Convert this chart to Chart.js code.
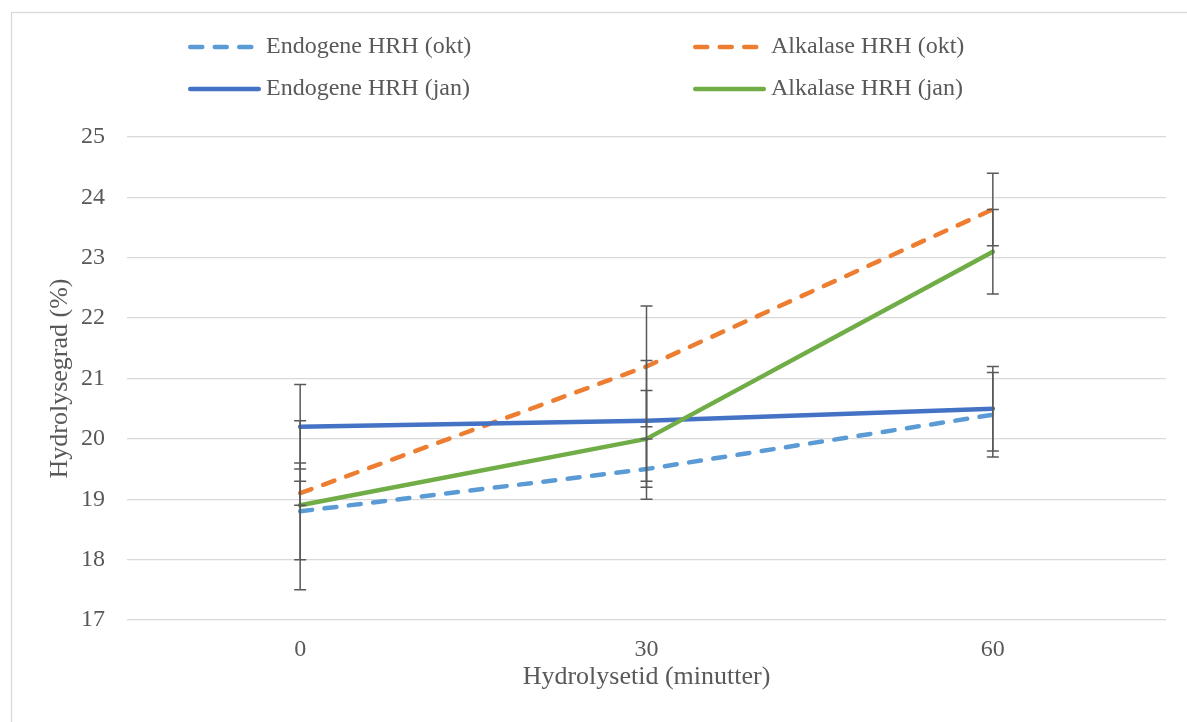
<!DOCTYPE html>
<html>
<head>
<meta charset="utf-8">
<script src="https://cdn.jsdelivr.net/npm/chart.js@4/dist/chart.umd.min.js"></script>
<style>
  html, body { margin: 0; padding: 0; background: #fff; }
  #wrap { width: 1187px; height: 722px; position: relative; }
</style>
</head>
<body>
<div id="wrap"><canvas id="chart" width="1187" height="722"></canvas></div>
<script>
// data
const categories = ["0", "30", "60"];
const seriesNames = ["Endogene HRH (okt)", "Alkalase HRH (okt)", "Endogene HRH (jan)", "Alkalase HRH (jan)"];
const endogeneOkt = [18.8, 19.5, 20.4];
const alkalaseOkt = [19.1, 21.2, 23.8];
const endogeneJan = [20.2, 20.3, 20.5];
const alkalaseJan = [18.9, 20.0, 23.1];
// +/- error per point
const endogeneOktErr = [0.8, 0.5, 0.7];
const alkalaseOktErr = [0.2, 1.0, 0.6];
const endogeneJanErr = [0.7, 1.0, 0.7];
const alkalaseJanErr = [1.4, 0.8, 0.7];
const yMin = 17;
const yMax = 25;
const yStep = 1;

const textColor = "#595959";
const serif = "'Liberation Serif', 'Times New Roman', serif";
const dash = [12, 12.5];

function makeSet(i, data, err, color, dashed) {
  return {
    label: seriesNames[i],
    data: data,
    errors: err,
    borderColor: color,
    backgroundColor: color,
    borderWidth: 4.5,
    borderDash: dashed ? dash : [],
    borderCapStyle: "round",
    borderJoinStyle: "round",
    pointRadius: 0,
    pointHoverRadius: 0,
    tension: 0,
    fill: false,
    order: 3 - i,
  };
}

// frame around the whole chart (goes off the picture at right and bottom)
const framePlugin = {
  id: "frame",
  beforeDraw(chart) {
    const ctx = chart.ctx;
    ctx.save();
    ctx.strokeStyle = "#d9d9d9";
    ctx.lineWidth = 1.3;
    ctx.strokeRect(11.5, 12.5, 1400, 900);
    ctx.restore();
  },
};

// vertical error bars with caps
const errorBarPlugin = {
  id: "errorBars",
  afterDatasetsDraw(chart) {
    const ctx = chart.ctx;
    const x = chart.scales.x;
    const y = chart.scales.y;
    ctx.save();
    ctx.strokeStyle = "#595959";
    ctx.lineWidth = 1.5;
    chart.data.datasets.forEach((ds) => {
      ds.data.forEach((v, i) => {
        const e = ds.errors[i];
        const px = x.getPixelForValue(i);
        const top = y.getPixelForValue(v + e);
        const bot = y.getPixelForValue(v - e);
        ctx.beginPath();
        ctx.moveTo(px, top);
        ctx.lineTo(px, bot);
        ctx.moveTo(px - 6, top);
        ctx.lineTo(px + 6, top);
        ctx.moveTo(px - 6, bot);
        ctx.lineTo(px + 6, bot);
        ctx.stroke();
      });
    });
    ctx.restore();
  },
};

// legend: two columns, two rows like the original
const legendPlugin = {
  id: "twoColLegend",
  afterDraw(chart) {
    const ctx = chart.ctx;
    const cols = [188, 693];
    const rows = [47, 89];
    const lineLen = 73;
    ctx.save();
    chart.data.datasets.forEach((ds, i) => {
      const lx = cols[i % 2];
      const ly = rows[Math.floor(i / 2)];
      ctx.strokeStyle = ds.borderColor;
      ctx.lineWidth = ds.borderWidth;
      ctx.lineCap = "round";
      ctx.setLineDash(ds.borderDash);
      ctx.beginPath();
      ctx.moveTo(lx + 2.25, ly);
      ctx.lineTo(lx + lineLen - 2.25, ly);
      ctx.stroke();
      ctx.setLineDash([]);
      ctx.fillStyle = textColor;
      ctx.font = "24px " + serif;
      ctx.textBaseline = "middle";
      ctx.textAlign = "left";
      ctx.fillText(ds.label, lx + lineLen + 5, ly);
    });
    ctx.restore();
  },
};

const ctx = document.getElementById("chart").getContext("2d");
new Chart(ctx, {
  type: "line",
  data: {
    labels: categories,
    datasets: [
      makeSet(0, endogeneOkt, endogeneOktErr, "#5B9BD5", true),
      makeSet(1, alkalaseOkt, alkalaseOktErr, "#ED7D31", true),
      makeSet(2, endogeneJan, endogeneJanErr, "#4472C4", false),
      makeSet(3, alkalaseJan, alkalaseJanErr, "#70AD47", false),
    ],
  },
  plugins: [framePlugin, errorBarPlugin, legendPlugin],
  options: {
    responsive: false,
    animation: false,
    layout: {
      padding: { left: 0, right: 21, top: 137, bottom: 0 },
    },
    plugins: {
      legend: { display: false },
      tooltip: { enabled: false },
    },
    scales: {
      x: {
        offset: true,
        grid: { display: false, drawTicks: false },
        border: { display: false },
        ticks: {
          color: textColor,
          padding: 15,
          font: { size: 24, family: serif },
        },
        title: {
          display: true,
          text: "Hydrolysetid (minutter)",
          color: textColor,
          font: { size: 26, family: serif },
          padding: { top: 0, bottom: 29 },
        },
        afterFit(scale) {
          scale.height = 102;
        },
      },
      y: {
        min: yMin,
        max: yMax,
        grid: {
          color: "#d9d9d9",
          lineWidth: 1.3,
          drawTicks: false,
        },
        border: { display: false },
        ticks: {
          stepSize: yStep,
          color: textColor,
          padding: 22,
          font: { size: 24, family: serif },
        },
        title: {
          display: true,
          text: "Hydrolysegrad (%)",
          color: textColor,
          font: { size: 26, family: serif },
          padding: { top: 45, bottom: 0 },
        },
        afterFit(scale) {
          scale.width = 127;
        },
      },
    },
  },
});
</script>
</body>
</html>
